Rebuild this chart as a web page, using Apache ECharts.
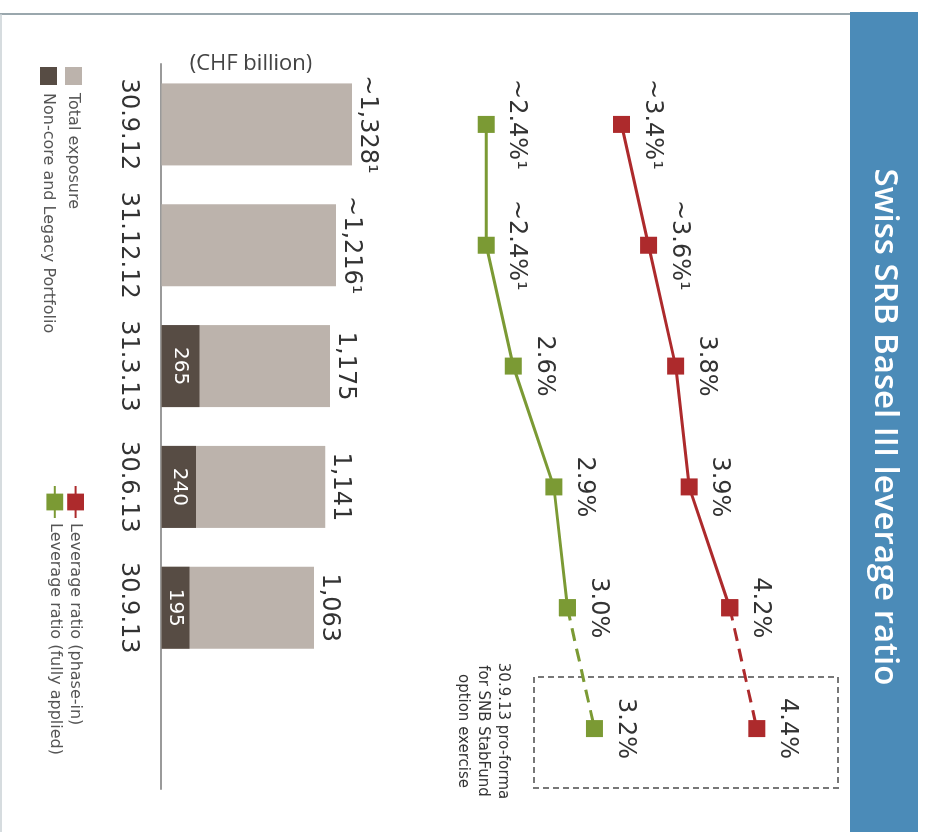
<!DOCTYPE html>
<html>
<head>
<meta charset="utf-8">
<script src="https://cdn.jsdelivr.net/npm/echarts@6/dist/echarts.min.js"></script>
<style>
html,body{margin:0;padding:0;width:927px;height:832px;overflow:hidden;background:#fff;}
#wrap{position:absolute;left:0;top:0;width:832px;height:927px;transform-origin:0 0;transform:translate(927px,0) rotate(90deg);}
</style>
</head>
<body>
<div id="wrap"></div>
<script>
// ---- data ----
const categories = ['30.9.12', '31.12.12', '31.3.13', '30.6.13', '30.9.13', ''];
const totalExposure = [1328, 1216, 1175, 1141, 1063, null];
const nonCoreLegacy = [null, null, 265, 240, 195, null];
const leveragePhaseIn = [3.4, 3.6, 3.8, 3.9, 4.2, 4.4];
const leverageFullyApplied = [2.4, 2.4, 2.6, 2.9, 3.0, 3.2];
const approximate = [true, true, false, false, false, false];
const proFormaIndex = 5;
const titleText = 'Swiss SRB Basel III leverage ratio';
const unitText = '(CHF billion)';
const noteText = '30.9.13 pro-forma\nfor SNB StabFund\noption exercise';

// ---- styles ----
const RED = '#ad2a2c', GREEN = '#7b9a34', LIGHT = '#bcb3ac', DARK = '#574c44';
const FONT = 'DejaVu Sans';

const solid = arr => arr.map((v, i) => i < proFormaIndex ? v : '-');
const dashed = arr => arr.map((v, i) => i >= proFormaIndex - 1 ? v : '-');
const pctLabel = (p) => (approximate[p.dataIndex] ? '~' : '') + Number(p.value).toFixed(1) + '%' + (approximate[p.dataIndex] ? '¹' : '');

const chart = echarts.init(document.getElementById('wrap'), null, {width: 832, height: 927, renderer: 'canvas'});

function lineSeries(name, arr, color) {
  return [{
    name: name, type: 'line', yAxisIndex: 1, data: solid(arr),
    symbol: 'rect', symbolSize: 17, z: 5,
    itemStyle: {color: color}, lineStyle: {color: color, width: 3},
    label: {show: true, position: 'top', distance: 10, fontFamily: FONT, fontSize: 24, color: '#333', formatter: pctLabel}
  }, {
    name: name + ' pro-forma', type: 'line', yAxisIndex: 1, data: dashed(arr),
    symbol: 'rect', symbolSize: 17, z: 5,
    itemStyle: {color: color}, lineStyle: {color: color, width: 3, type: [13, 8]},
    label: {show: true, position: 'top', distance: 10, fontFamily: FONT, fontSize: 24, color: '#333',
      formatter: p => p.dataIndex === proFormaIndex ? pctLabel(p) : ''}
  }];
}

const option = {
  animation: false,
  backgroundColor: '#fff',
  grid: {left: 64, right: 43, bottom: 161.5, top: 89, containLabel: false},
  xAxis: {
    type: 'category', data: categories,
    axisLine: {lineStyle: {color: '#9a9a9a', width: 2}},
    axisTick: {show: false},
    axisLabel: {interval: 0, margin: 21, fontFamily: FONT, fontSize: 24, color: '#333'}
  },
  yAxis: [
    {type: 'value', min: 0, max: 4716, show: false, splitLine: {show: false}},
    {type: 'value', min: 0, max: 5, show: false, splitLine: {show: false}}
  ],
  legend: [{
    data: ['Total exposure', 'Non-core and Legacy Portfolio'],
    orient: 'vertical', left: 62, top: 840, itemWidth: 18, itemHeight: 17, itemGap: 8,
    icon: 'rect',
    textStyle: {fontFamily: FONT, fontSize: 16, color: '#555', padding: [0, 0, 0, 3]}
  }, {
    data: ['Leverage ratio (phase-in)', 'Leverage ratio (fully applied)'],
    orient: 'vertical', left: 480, top: 838, itemWidth: 32, itemHeight: 21, itemGap: 4,
    textStyle: {fontFamily: FONT, fontSize: 16, color: '#555'}
  }],
  series: [
    {
      name: 'Total exposure', type: 'bar', yAxisIndex: 0, data: totalExposure,
      barWidth: 82, barGap: '-100%', itemStyle: {color: LIGHT},
      label: {show: true, position: 'top', distance: 3, fontFamily: FONT, fontSize: 24, color: '#333',
        formatter: p => (approximate[p.dataIndex] ? '~' : '') + Number(p.value).toLocaleString('en-US') + (approximate[p.dataIndex] ? '¹' : '')}
    },
    {
      name: 'Non-core and Legacy Portfolio', type: 'bar', yAxisIndex: 0, data: nonCoreLegacy,
      barWidth: 82, barGap: '-100%', itemStyle: {color: DARK},
      label: {show: true, position: 'inside', fontFamily: FONT, fontSize: 20, color: '#fff'}
    },
    ...lineSeries('Leverage ratio (phase-in)', leveragePhaseIn, RED),
    ...lineSeries('Leverage ratio (fully applied)', leverageFullyApplied, GREEN)
  ],
  graphic: [
    {type: 'rect', left: 12, top: 9, shape: {width: 820, height: 68}, style: {fill: '#4b8bb8'}, silent: true},
    {type: 'text', x: 427, y: 43, style: {text: titleText, fill: '#fff', font: '600 33px "Open Sans"', textAlign: 'center', textVerticalAlign: 'middle'}, silent: true},
    {type: 'line', shape: {x1: 14, y1: 77, x2: 14, y2: 927}, style: {stroke: '#9aa7ad', lineWidth: 2}, silent: true},
    {type: 'line', shape: {x1: 14, y1: 926, x2: 832, y2: 926}, style: {stroke: '#c8d0d4', lineWidth: 1.5}, silent: true},
    {type: 'text', x: 64, y: 676, rotation: Math.PI / 2, style: {text: unitText, fill: '#444', font: '22px "Open Sans"', textAlign: 'center', textVerticalAlign: 'middle'}, silent: true},
    {type: 'rect', shape: {x: 677, y: 89, width: 111, height: 304}, style: {fill: 'none', stroke: '#777', lineWidth: 2, lineDash: [6, 4]}, silent: true},
    {type: 'text', x: 731, y: 414, style: {text: noteText, fill: '#333', font: '15px "DejaVu Sans"', textAlign: 'center', textVerticalAlign: 'top', lineHeight: 20}, silent: true}
  ]
};
chart.setOption(option);
</script>
</body>
</html>
